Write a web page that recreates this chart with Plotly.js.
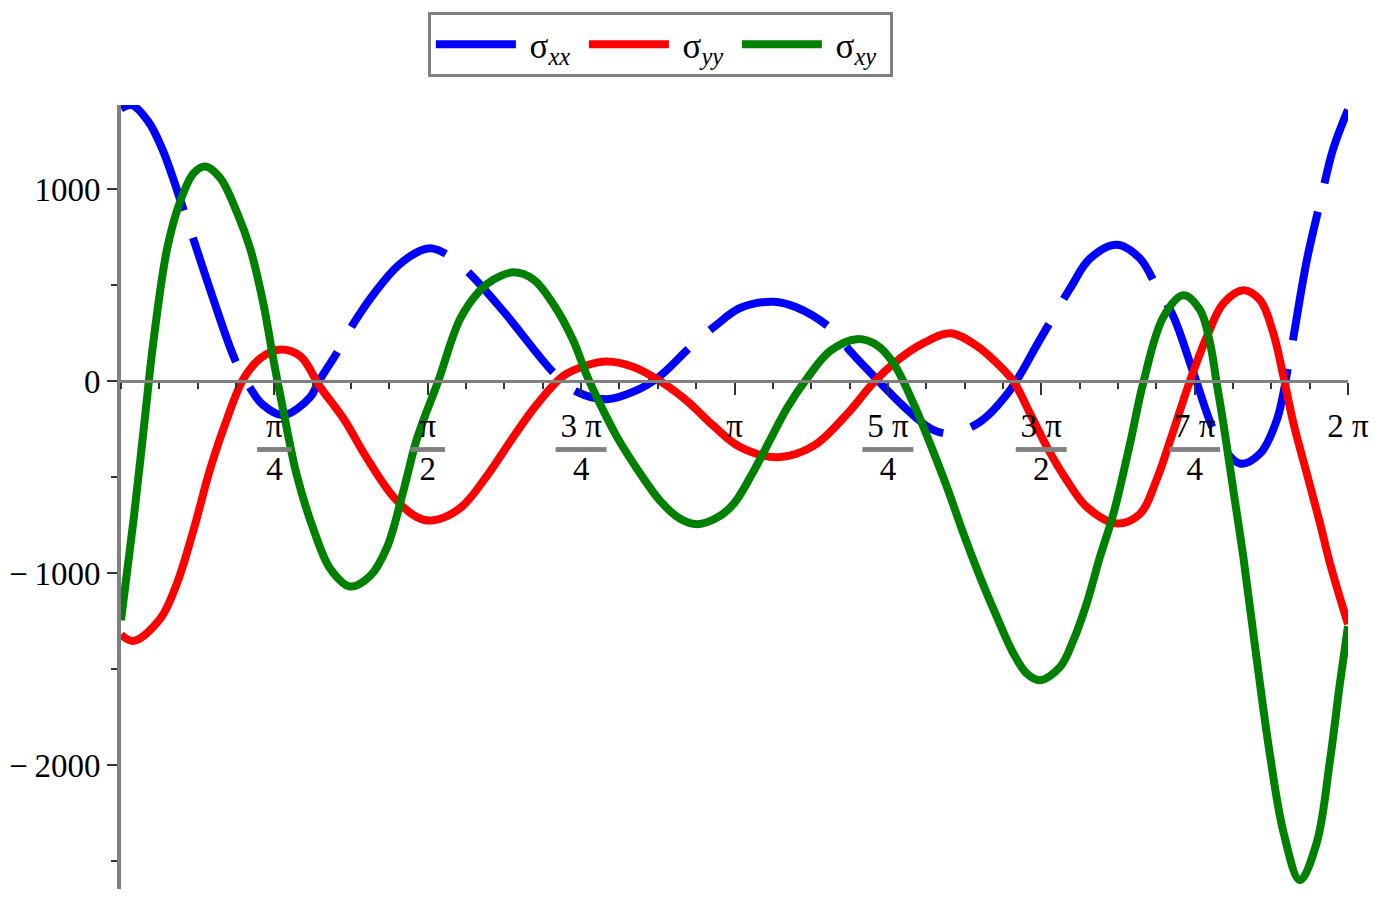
<!DOCTYPE html>
<html>
<head>
<meta charset="utf-8">
<script src="https://cdn.plot.ly/plotly-3.0.1.min.js"></script>
<style>html,body{margin:0;padding:0;background:#fff}</style>
</head>
<body>
<div id="tester" style="width:1380px;height:904px"></div>
<script>
// values, x in radians
var sxxTheta = [0, 0.056, 0.141, 0.210, 0.261, 0.312, 0.363, 0.466, 0.585, 0.662, 0.724, 0.832, 0.969, 1.012, 1.114, 1.191,
  1.302, 1.421, 1.541, 1.592, 1.669, 1.788, 1.959, 2.223, 2.335, 2.488, 2.642, 2.761, 2.923, 3.043, 3.170, 3.341,
  3.461, 3.640, 3.742, 3.887, 4.007, 4.143, 4.246, 4.399, 4.553, 4.707, 4.860, 4.962, 5.099, 5.218, 5.304, 5.390,
  5.493, 5.613, 5.730, 5.833, 5.919, 5.986, 6.072, 6.140, 6.207, 6.283];
var sxxValues = [1422, 1439, 1352, 1214, 1075, 920, 765, 449, 110, -35, -120, -176, -82, -2, 163, 302,
  466, 605, 684, 693, 661, 559, 364, 37, -55, -93, -46, 29, 187, 289, 382, 415,
  385, 272, 148, -7, -130, -244, -272, -211, -46, 220, 484, 640, 712, 640, 492, 336,
  41, -289, -428, -376, -200, 130, 630, 930, 1210, 1415];

var syyTheta = [0, 0.065, 0.201, 0.287, 0.372, 0.457, 0.543, 0.628, 0.713, 0.808, 0.918, 1.020, 1.140, 1.259, 1.396, 1.515,
  1.594, 1.737, 1.874, 2.010, 2.130, 2.266, 2.386, 2.488, 2.624, 2.761, 2.898, 3.034, 3.171, 3.365, 3.546, 3.717,
  3.853, 3.973, 4.109, 4.246, 4.382, 4.485, 4.570, 4.655, 4.741, 4.843, 4.945, 5.100, 5.218, 5.304, 5.372, 5.475,
  5.560, 5.645, 5.747, 5.833, 5.901, 5.953, 6.004, 6.072, 6.140, 6.191, 6.283];
var syyValues = [-1320, -1352, -1237, -1051, -772, -455, -195, 15, 120, 165, 131, -30, -195, -400, -603, -707,
  -725, -660, -492, -288, -120, 29, 84, 103, 75, 1, -102, -232, -343, -395, -336, -171,
  -7, 107, 199, 251, 185, 95, 0, -167, -341, -515, -654, -740, -690, -510, -310, 6,
  232, 406, 475, 423, 250, 23, -219, -480, -740, -949, -1265];

var sxyTheta = [0, 0.065, 0.116, 0.167, 0.236, 0.304, 0.372, 0.432, 0.508, 0.594, 0.662, 0.730, 0.781, 0.832, 0.901, 0.986,
  1.072, 1.174, 1.276, 1.362, 1.447, 1.515, 1.624, 1.737, 1.839, 1.908, 2.010, 2.112, 2.215, 2.315, 2.386, 2.454,
  2.539, 2.642, 2.761, 2.863, 2.949, 3.051, 3.136, 3.222, 3.324, 3.410, 3.512, 3.631, 3.768, 3.870, 3.955, 4.058,
  4.143, 4.229, 4.314, 4.399, 4.485, 4.570, 4.638, 4.706, 4.809, 4.877, 4.945, 5.013, 5.082, 5.167, 5.236, 5.338,
  5.440, 5.526, 5.577, 5.611, 5.645, 5.696, 5.747, 5.816, 5.884, 5.953, 6.037, 6.123, 6.191, 6.242, 6.283];
var sxyValues = [-1245, -716, -251, 215, 690, 940, 1085, 1120, 1060, 880, 690, 400, 110, -157, -492, -772,
  -977, -1069, -1014, -865, -567, -300, 0, 326, 475, 531, 568, 531, 401, 215, 29, -120,
  -288, -455, -623, -716, -744, -711, -640, -500, -305, -140, 14, 158, 220, 189, 96, -115,
  -324, -550, -793, -1019, -1227, -1418, -1522, -1557, -1488, -1349, -1157, -915, -690, -324, -2, 336,
  449, 371, 198, -11, -219, -567, -914, -1450, -1950, -2350, -2600, -2404, -1974, -1572, -1276];

var seriesNames = ['\u00a0σ<sub><i>xx</i></sub>', '\u00a0σ<sub><i>yy</i></sub>', '\u00a0σ<sub><i>xy</i></sub>'];

var yTicks = [-2000, -1000, 0, 1000];
var yTickText = ['\u2212\u20092000', '\u2212\u20091000', '0', '1000'];
var xTickNum = ['π', 'π', '3 π', 'π', '5 π', '3 π', '7 π', '2 π'];
var xTickDen = ['4', '2', '4', '', '4', '2', '4', ''];

var yRange = [-2645, 1440];

function fracLabel(num, den) {
  if (!den) return num + '<br>\u00a0';
  var pad = num.length > 1 ? '\u00a0\u00a0' : '\u00a0';
  return num + '<br><span style="text-decoration:overline;fill:#808080;stroke:#808080;stroke-width:1.5px">' +
    pad + '<span style="fill:#000;stroke:none">' + den + '</span>' + pad + '</span>';
}

var xTickVals = xTickNum.map(function (d, i) { return (i + 1) * Math.PI / 4; });
var xTickText = xTickNum.map(function (n, i) { return fracLabel(n, xTickDen[i]); });

var trace1 = {
  x: sxxTheta, y: sxxValues, mode: 'lines', type: 'scatter', name: seriesNames[0],
  line: { color: '#0000ff', width: 8, shape: 'spline', smoothing: 1, dash: '131px,29px' }
};
var trace2 = {
  x: syyTheta, y: syyValues, mode: 'lines', type: 'scatter', name: seriesNames[1],
  line: { color: '#ff0000', width: 8, shape: 'spline', smoothing: 1 }
};
var trace3 = {
  x: sxyTheta, y: sxyValues, mode: 'lines', type: 'scatter', name: seriesNames[2],
  line: { color: '#008000', width: 8, shape: 'spline', smoothing: 1 }
};

var data = [trace1, trace2, trace3];

var layout = {
  width: 1380, height: 904,
  margin: { l: 121, r: 32, t: 105, b: 15 },
  paper_bgcolor: '#fff', plot_bgcolor: '#fff',
  font: { family: 'Liberation Serif, Times New Roman, serif', size: 33, color: '#000' },
  showlegend: true,
  xaxis: {
    range: [0, 2 * Math.PI],
    anchor: 'free',
    position: (0 - yRange[0]) / (yRange[1] - yRange[0]),
    showgrid: false, zeroline: false,
    showline: true, linecolor: '#808080', linewidth: 3,
    tickmode: 'array', tickvals: xTickVals, ticktext: xTickText,
    ticks: 'outside', ticklen: 12, tickwidth: 2, tickcolor: '#333',
    ticklabelstandoff: 2,
    minor: { dtick: Math.PI / 16, tick0: 0, ticks: 'outside', ticklen: 6, tickwidth: 2, tickcolor: '#333', showgrid: false },
    tickfont: { family: 'Liberation Serif, serif', size: 33, color: '#000' }
  },
  yaxis: {
    range: yRange,
    showgrid: false, zeroline: false,
    showline: true, linecolor: '#808080', linewidth: 4,
    tickmode: 'array', tickvals: yTicks, ticktext: yTickText,
    ticks: 'outside', ticklen: 10, tickwidth: 2, tickcolor: '#333',
    minor: { dtick: 500, tick0: 0, ticks: 'outside', ticklen: 6, tickwidth: 2, tickcolor: '#333', showgrid: false },
    tickfont: { family: 'Liberation Serif, serif', size: 33, color: '#000' }
  },
  legend: {
    orientation: 'h',
    x: 0.2501, y: 1.1186, xanchor: 'left', yanchor: 'top',
    bgcolor: '#fff', bordercolor: '#808080', borderwidth: 3,
    itemwidth: 80, entrywidth: 58,
    font: { family: 'Liberation Serif, serif', size: 35, color: '#000' }
  }
};

TESTER = document.getElementById('tester');
Plotly.newPlot(TESTER, data, layout, { displayModeBar: false, staticPlot: true });
</script>
</body>
</html>
